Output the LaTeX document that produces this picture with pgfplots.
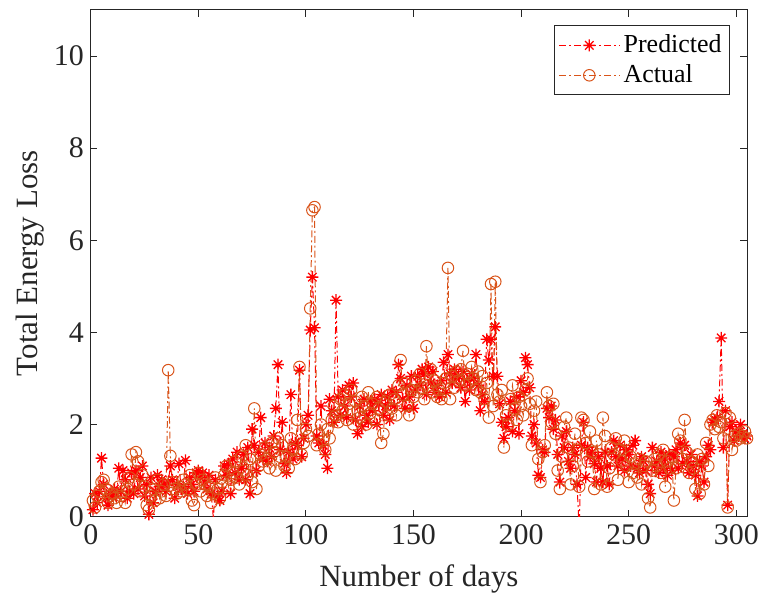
\documentclass[border=0pt]{standalone}
\usepackage{pgfplots}
\pgfplotsset{compat=1.18}
\usepackage{pgfplotstable}
\usepackage{fontspec}
\setmainfont{Liberation Serif}
\definecolor{predc}{RGB}{255,0,0}
\definecolor{actc}{RGB}{217,83,25}
\definecolor{axc}{RGB}{38,38,38}
\pgfdeclareplotmark{mstar}{%
 \pgfpathmoveto{\pgfqpoint{-\pgfplotmarksize}{0pt}}\pgfpathlineto{\pgfqpoint{\pgfplotmarksize}{0pt}}%
 \pgfpathmoveto{\pgfqpoint{0pt}{-\pgfplotmarksize}}\pgfpathlineto{\pgfqpoint{0pt}{\pgfplotmarksize}}%
 \pgfpathmoveto{\pgfqpoint{-0.707\pgfplotmarksize}{-0.707\pgfplotmarksize}}\pgfpathlineto{\pgfqpoint{0.707\pgfplotmarksize}{0.707\pgfplotmarksize}}%
 \pgfpathmoveto{\pgfqpoint{-0.707\pgfplotmarksize}{0.707\pgfplotmarksize}}\pgfpathlineto{\pgfqpoint{0.707\pgfplotmarksize}{-0.707\pgfplotmarksize}}%
 \pgfusepathqstroke}
\pgfplotstableread{
x p a
1 0.15 0.35
2 0.50 0.20
3 0.30 0.45
4 0.55 0.55
5 1.27 0.75
6 0.70 0.80
7 0.40 0.60
8 0.25 0.30
9 0.50 0.45
10 0.45 0.50
11 0.60 0.40
12 0.45 0.30
13 1.05 0.65
14 0.55 0.45
15 1.00 0.55
16 0.80 0.30
17 0.40 0.60
18 0.55 0.85
19 0.95 1.35
20 0.50 0.70
21 1.00 1.40
22 0.60 1.20
23 0.85 0.55
24 1.10 0.90
25 0.45 0.65
26 0.70 0.25
27 0.05 0.15
28 0.85 0.45
29 0.30 0.60
30 0.55 0.35
31 0.90 0.80
32 0.65 0.40
33 0.80 0.55
34 0.70 0.70
35 0.55 0.45
36 0.75 3.18
37 1.10 1.32
38 0.80 0.75
39 0.40 0.60
40 0.70 0.50
41 1.15 0.65
42 0.60 0.55
43 0.65 0.80
44 1.22 0.70
45 0.50 0.60
46 0.85 0.90
47 0.70 0.35
48 0.55 0.25
49 0.95 0.70
50 1.00 0.95
51 0.85 0.55
52 0.95 0.80
53 0.75 0.70
54 0.60 0.45
55 0.90 0.65
56 0.50 0.30
57 -0.05 0.50
58 0.80 0.85
59 0.45 0.60
60 0.35 0.40
61 0.55 0.75
62 1.10 0.90
63 0.90 1.10
64 1.15 0.65
65 0.50 0.80
66 1.25 0.95
67 0.95 1.20
68 1.40 0.85
69 0.80 0.70
70 1.05 1.30
71 1.35 1.00
72 0.80 1.55
73 1.50 0.90
74 0.50 1.25
75 1.90 0.75
76 1.55 2.35
77 1.00 0.60
78 1.40 1.10
79 2.15 1.35
80 1.25 1.20
81 1.60 1.50
82 1.20 1.25
83 1.50 1.05
84 1.30 1.60
85 1.75 1.40
86 2.35 1.00
87 3.30 1.70
88 1.45 1.30
89 2.05 1.55
90 1.15 1.10
91 0.95 1.30
92 1.40 1.05
93 2.65 1.70
94 1.25 1.45
95 1.60 1.25
96 1.55 2.10
97 3.18 3.25
98 1.30 1.35
99 1.70 1.60
100 2.00 1.90
101 2.20 1.75
102 4.05 4.52
103 5.20 6.65
104 4.10 6.72
105 1.75 1.55
106 1.60 1.80
107 2.40 2.00
108 1.55 1.65
109 1.35 1.45
110 1.05 1.90
111 2.55 1.70
112 2.30 2.10
113 2.05 2.40
114 4.70 2.20
115 2.60 2.05
116 2.20 2.55
117 2.75 2.30
118 2.40 2.65
119 2.15 2.10
120 2.85 2.45
121 2.60 2.75
122 2.90 2.00
123 2.10 2.50
124 1.80 2.30
125 2.40 2.15
126 1.95 2.60
127 2.55 2.40
128 2.20 2.00
129 2.05 2.70
130 2.50 2.25
131 2.30 2.45
132 2.55 2.10
133 2.00 2.60
134 2.45 2.35
135 2.65 1.60
136 2.20 1.80
137 2.40 2.50
138 2.60 2.20
139 2.10 2.65
140 2.75 2.35
141 2.40 2.55
142 2.70 2.20
143 3.30 2.85
144 3.00 3.40
145 2.55 2.65
146 2.35 2.90
147 2.85 2.40
148 2.60 2.20
149 3.05 2.75
150 2.35 2.60
151 2.75 2.95
152 3.05 2.70
153 2.85 3.10
154 3.20 2.80
155 3.10 2.55
156 2.65 3.70
157 3.25 2.85
158 2.90 3.20
159 3.15 2.70
160 2.70 2.95
161 2.85 2.60
162 2.60 2.75
163 2.95 2.55
164 3.35 2.90
165 2.70 3.00
166 3.52 5.40
167 3.10 2.55
168 2.90 3.05
169 3.20 2.80
170 3.00 3.15
171 3.05 2.95
172 2.80 3.20
173 3.15 3.60
174 2.50 2.85
175 2.95 3.10
176 2.75 2.90
177 3.10 3.25
178 3.00 3.00
179 3.52 2.75
180 2.85 3.15
181 2.30 2.70
182 2.65 3.05
183 2.50 2.55
184 3.85 2.90
185 3.40 2.15
186 3.85 5.05
187 3.05 2.40
188 4.12 5.10
189 3.05 2.65
190 2.45 2.50
191 2.05 2.75
192 1.70 1.50
193 1.95 2.20
194 2.15 2.00
195 2.50 2.55
196 1.85 2.85
197 2.30 2.35
198 2.60 2.10
199 1.80 2.60
200 2.95 2.40
201 2.70 2.20
202 3.45 2.75
203 3.30 3.00
204 2.80 2.45
205 1.75 1.55
206 2.00 2.30
207 1.60 2.50
208 0.90 1.25
209 0.85 0.75
210 1.45 1.40
211 1.40 1.55
212 2.35 2.70
213 2.15 2.40
214 2.40 2.05
215 1.90 2.45
216 2.10 1.80
217 1.35 1.00
218 0.75 0.60
219 1.75 1.30
220 1.50 1.95
221 1.85 2.15
222 1.20 1.50
223 1.05 0.70
224 1.50 1.10
225 1.35 1.80
226 0.70 1.45
227 -0.30 0.65
228 1.55 2.15
229 2.05 2.10
230 0.85 1.60
231 1.50 1.20
232 1.30 1.85
233 1.40 1.40
234 1.15 0.60
235 0.75 1.65
236 1.30 1.35
237 1.05 0.70
238 0.75 2.15
239 1.40 1.75
240 1.10 0.65
241 0.70 1.05
242 1.40 1.50
243 1.65 1.35
244 1.30 1.70
245 1.10 0.80
246 1.55 1.45
247 1.25 1.20
248 1.00 1.65
249 1.45 1.10
250 1.35 0.75
251 1.10 1.30
252 1.55 0.95
253 1.65 1.15
254 1.05 0.85
255 0.95 1.25
256 1.30 0.70
257 1.20 1.10
258 1.00 1.20
259 0.70 0.40
260 0.50 0.20
261 1.50 1.00
262 1.10 1.25
263 1.20 1.10
264 0.95 1.35
265 1.40 0.95
266 1.05 1.45
267 1.25 0.65
268 0.90 1.20
269 1.35 1.05
270 1.00 1.30
271 1.30 0.35
272 1.45 1.05
273 1.05 1.80
274 1.60 1.65
275 1.15 1.25
276 1.55 2.10
277 1.20 1.40
278 0.95 0.95
279 1.35 1.20
280 1.10 1.05
281 0.90 0.60
282 0.45 1.35
283 1.20 0.50
284 1.10 1.25
285 0.75 0.70
286 1.30 1.60
287 1.55 1.10
288 1.45 2.00
289 2.05 2.10
290 2.10 1.90
291 2.15 2.20
292 2.50 1.95
293 3.88 2.05
294 1.50 1.70
295 2.30 2.25
296 0.25 0.20
297 1.95 2.15
298 2.05 1.45
299 1.65 1.75
300 1.85 1.65
301 1.75 1.80
302 2.00 1.70
303 1.80 1.75
304 1.70 1.85
305 1.75 1.70
}\datatable
\begin{document}
\begin{tikzpicture}
\useasboundingbox (-45.5bp,-39.5bp) rectangle (334.5bp,259bp);
\begin{axis}[
  at={(0,0)}, anchor=south west,
  scale only axis,
  width=329bp, height=254bp,
  xmin=0, xmax=305, ymin=0, ymax=11,
  xtick={0,50,...,300}, ytick={0,2,...,10},
  tick pos=both, tick align=inside,
  major tick length=3.3bp,
  axis line style={axc, line width=0.5pt},
  every tick/.style={axc, line width=0.5pt},
  tick label style={font=\fontsize{15bp}{17bp}\selectfont, text=axc},
  xticklabel style={yshift=-0.5bp},
  /pgf/number format/assume math mode=true,
  xlabel={Number of days}, ylabel={Total Energy Loss},
  label style={font=\fontsize{15.5bp}{18bp}\selectfont, text=axc},
  xlabel style={at={(axis description cs:0.5,0)}, anchor=center, yshift=-31bp},
  ylabel style={at={(axis description cs:0,0.5)}, anchor=center, yshift=30.5bp},
  legend style={at={(1,1)}, xshift=-8.5bp, yshift=-7.75bp, anchor=north east, draw=axc, line width=0.5pt,
     font=\fontsize{13bp}{15bp}\selectfont, text=black, inner xsep=2bp, inner ysep=2.5bp,
     row sep=0.5bp, cells={anchor=west}},
  legend image code/.code={\draw[mark repeat=2,mark phase=2,#1] plot coordinates {(0bp,0bp) (15bp,0bp) (30bp,0bp)};},
  every axis plot/.append style={line width=0.5pt, dash pattern=on 3.5pt off 1.5pt on 1pt off 1.5pt},
]
\addplot[color=predc, mark=mstar, mark size=3pt, mark options={solid, line width=0.65pt}, legend image post style={draw=predc}] table[x=x, y=p] {\datatable};
\addlegendentry{Predicted}
\addplot[color=actc, mark=o, mark size=2.9pt, mark options={solid, line width=0.5pt}, legend image post style={draw=actc}] table[x=x, y=a] {\datatable};
\addlegendentry{Actual}
\end{axis}
\end{tikzpicture}
\end{document}
